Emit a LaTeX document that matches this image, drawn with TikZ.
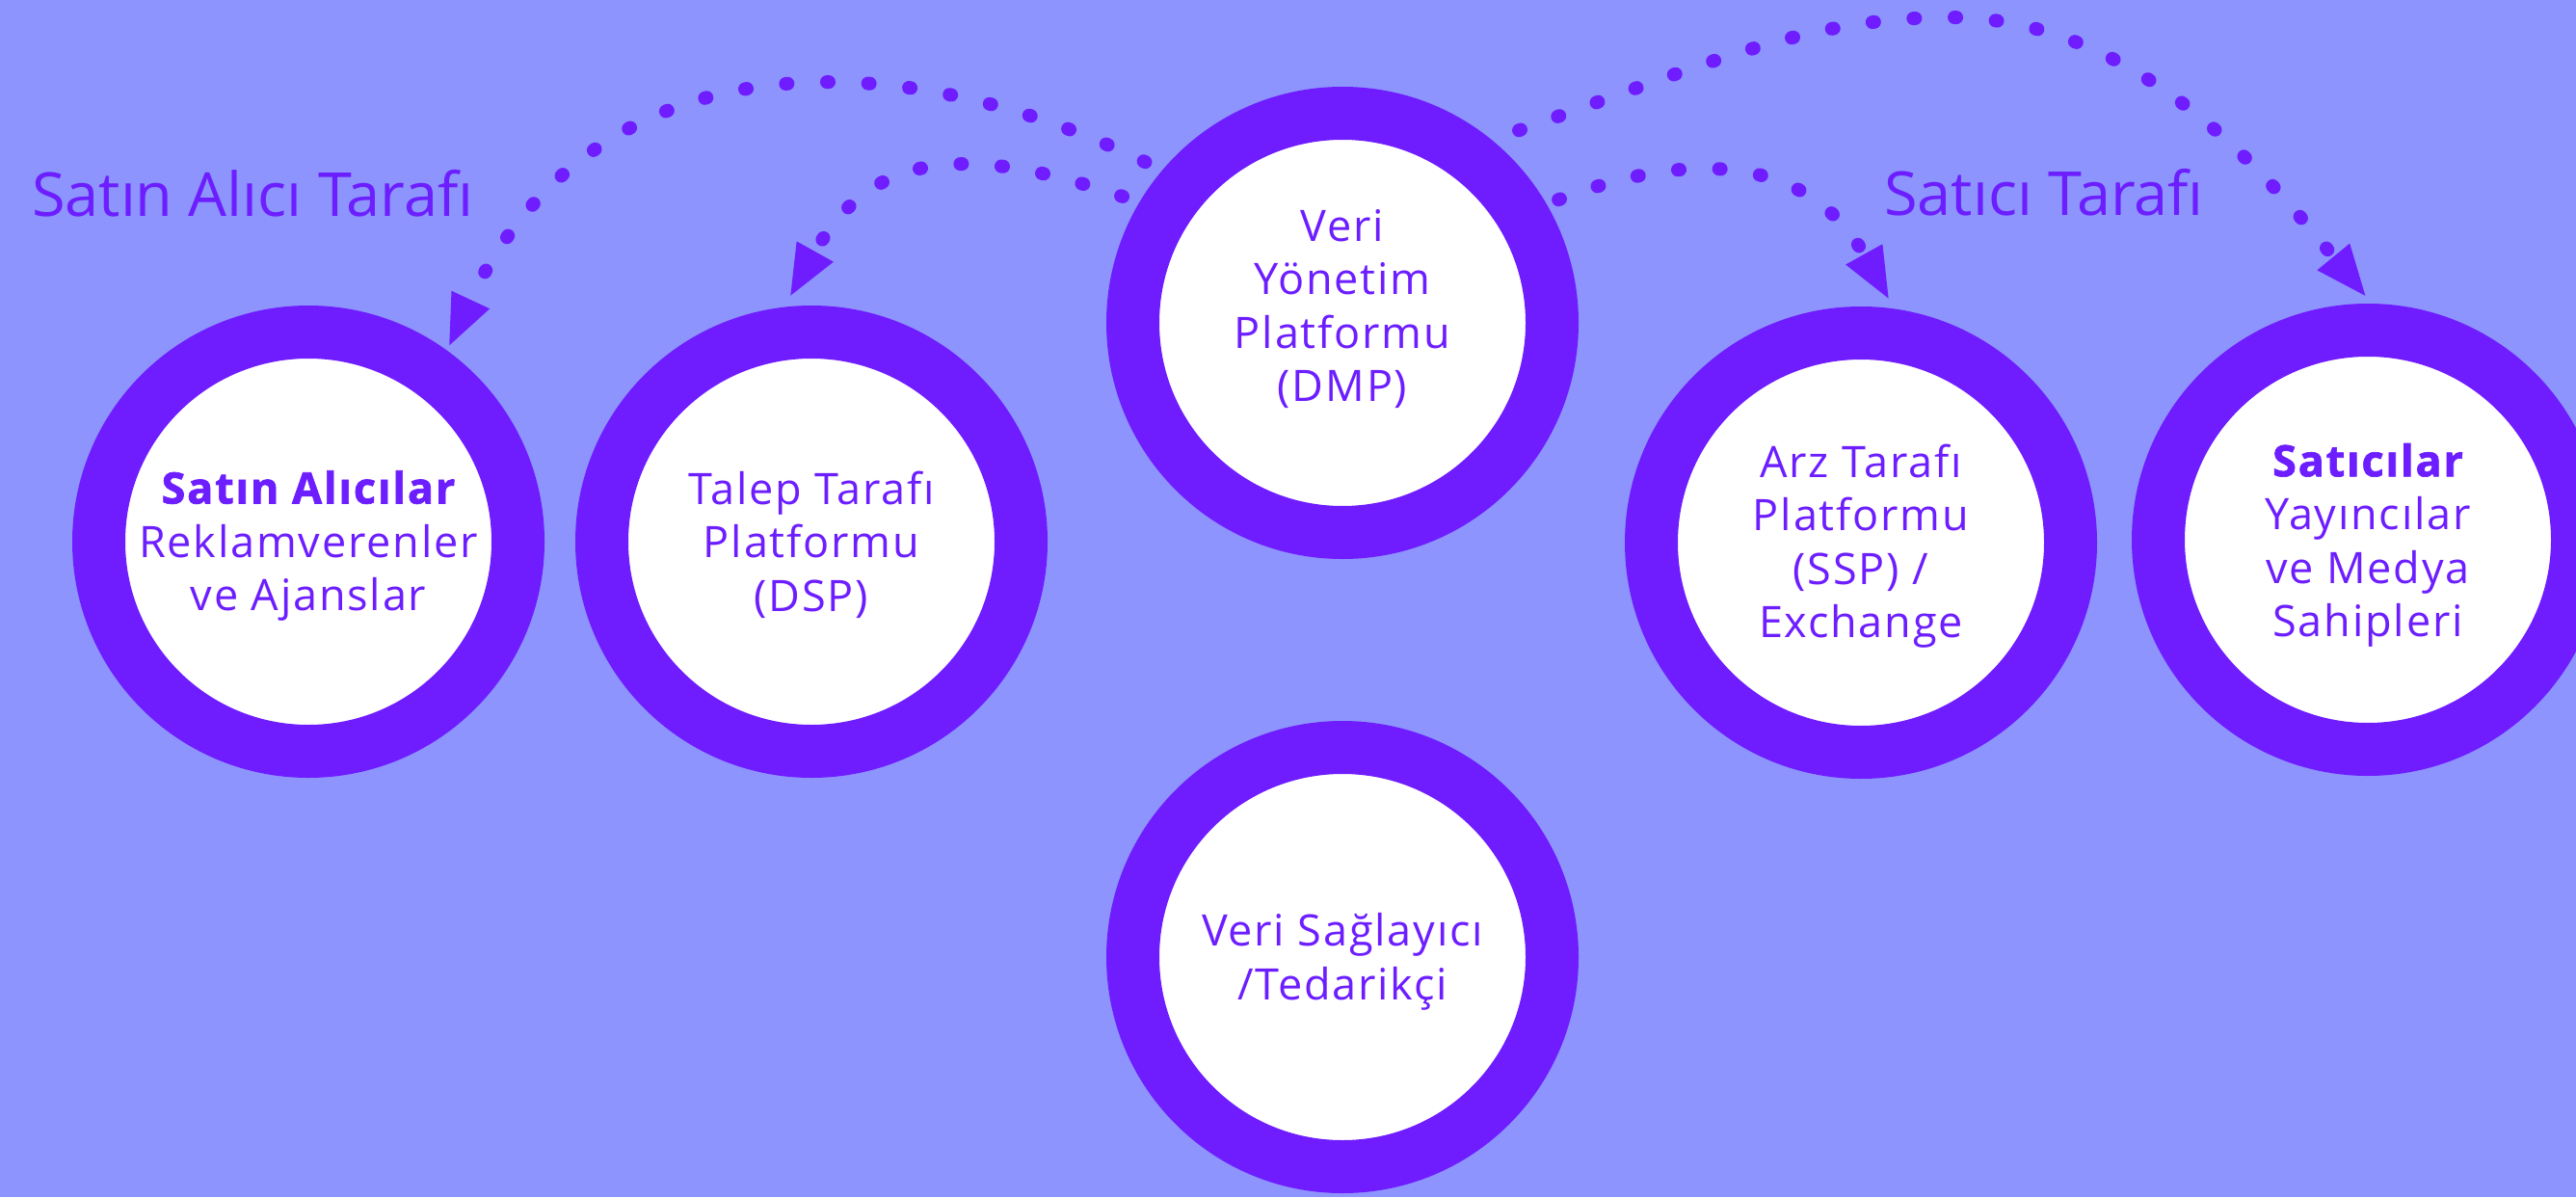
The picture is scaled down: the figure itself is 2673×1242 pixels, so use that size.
\documentclass[tikz,border=0pt]{standalone}
\usepackage{fontspec}
\setmainfont{Open Sans}
\newfontfamily\circfont[LetterSpace=4, BoldFeatures={FakeBold=1.5}]{Open Sans}
\usetikzlibrary{arrows.meta,calc}
\definecolor{bgc}{HTML}{8D94FE}
\definecolor{ring}{HTML}{6F1CFF}
\definecolor{txt}{HTML}{6D1EFF}
\newcommand\mytop[1]{\rule{0pt}{#1}}
\newcommand\mybot[1]{\rule[-#1]{0pt}{#1}}
\tikzset{
 ringnode/.style={circle, draw=ring, fill=white, line width=55pt, minimum size=435pt,
   inner sep=0pt, outer sep=27.5pt, text=txt, align=center,
   font=\circfont\fontsize{45pt}{55.5pt}\selectfont},
 dotline/.style={draw=ring, line width=14pt, line cap=round,
   dash pattern=on 2pt off 40.7pt, -{Triangle[length=55pt,width=39pt]}},
 sidelabel/.style={text=txt, anchor=base west, inner sep=0pt,
   font=\fontsize{63pt}{70pt}\selectfont}
}
\begin{document}
\begin{tikzpicture}[x=1pt,y=-1pt]
\useasboundingbox (0,0) rectangle (2673,1242);
\clip (0,0) rectangle (2673,1242);
\fill[bgc] (0,0) rectangle (2673,1242);

\node[ringnode] (buy) at (320,562) {\mytop{45pt}{\bfseries Satın Alıcılar}\\Reklamverenler\\ve Ajanslar\mybot{13pt}};
\node[ringnode] (dsp) at (842,562) {\mytop{46pt}Talep Tarafı\\Platformu\\(DSP)\mybot{13pt}};
\node[ringnode] (dmp) at (1393,335) {\mytop{42pt}Veri\\Yönetim\\Platformu\\(DMP)\mybot{45pt}};
\node[ringnode] (ssp) at (1931,563) {\mytop{45pt}Arz Tarafı\\Platformu\\(SSP) /\\Exchange\mybot{14pt}};
\node[ringnode] (sell) at (2457,560) {\mytop{47pt}{\bfseries Satıcılar}\\Yayıncılar\\ve Medya\\Sahipleri\mybot{12pt}};
\node[ringnode] (data) at (1393,993) {\mytop{46pt}Veri Sağlayıcı\\/Tedarikçi\mybot{13pt}};

\node[sidelabel] (buyside) at (33,224) {Satın Alıcı Tarafı};
\node[sidelabel] (sellside) at (1955,223) {Satıcı Tarafı};

\draw[dotline] ($(dmp.center)+(140.8:264pt)$) .. controls (918,37) and (613,44) .. ($(buy.center)+(54.2:248pt)$);
\draw[dotline] ($(dmp.center)+(150.1:263pt)$) .. controls (995,146) and (902,160) .. ($(dsp.center)+(95.2:254pt)$);
\draw[dotline] ($(dmp.center)+(29.7:258pt)$) .. controls (1767,150) and (1881,168) .. ($(ssp.center)+(83.2:252.8pt)$);
\draw[dotline] ($(dmp.center)+(47.5:271pt)$) .. controls (1765,69) and (1873,18) .. (2023,18)
  .. controls (2223,18) and (2361,193) .. ($(sell.center)+(90.2:251pt)$);
\end{tikzpicture}
\end{document}
